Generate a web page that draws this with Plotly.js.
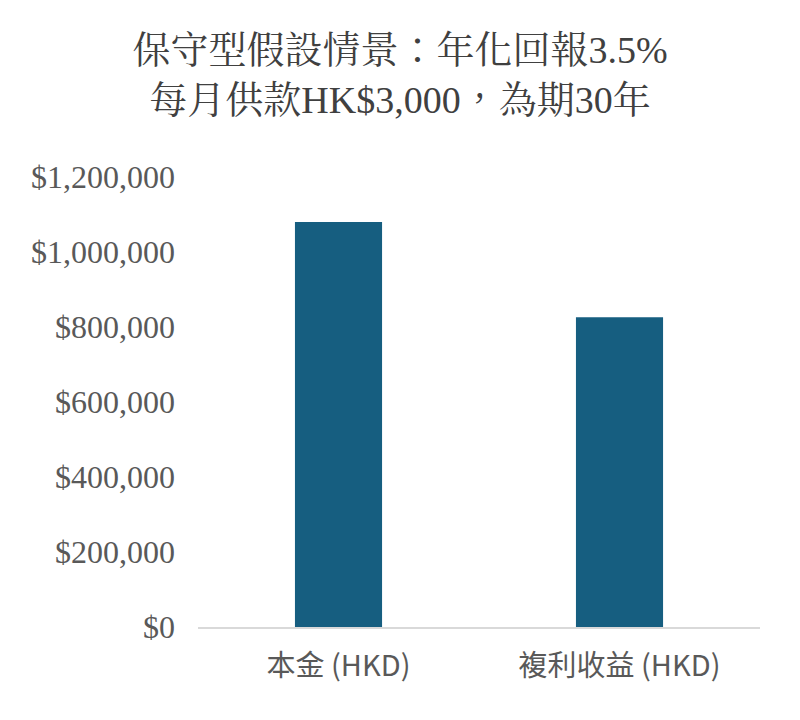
<!DOCTYPE html>
<html><head><meta charset="utf-8">
<script src="https://cdn.plot.ly/plotly-3.0.1.min.js"></script>
<style>body{margin:0;background:#fff}#c{width:800px;height:720px}</style>
</head><body><div id="c"></div>
<script>
const categories = ["本金 (HKD)", "複利收益 (HKD)"];
const values = [1080000, 826000];
const tickVals = [0, 200000, 400000, 600000, 800000, 1000000, 1200000];
const tickText = ["$0", "$200,000", "$400,000", "$600,000", "$800,000", "$1,000,000", "$1,200,000"];

Plotly.newPlot("c", [{
  type: "bar", x: categories, y: values, width: 0.31,
  marker: {color: "#165E80"}, hoverinfo: "none"
}], {
  width: 800, height: 720,
  margin: {l: 198, r: 40, t: 177, b: 93},
  paper_bgcolor: "#fff", plot_bgcolor: "#fff",
  title: {
    text: "保守型假設情景：年化回報3.5%<br>每月供款HK$3,000，為期30年",
    x: 0.5, xanchor: "center", y: 0.912, yanchor: "top",
    font: {family: "Liberation Serif, Noto Serif CJK TC, Noto Sans CJK TC", size: 38, color: "#404040"}
  },
  xaxis: {
    showgrid: false, showline: true, linecolor: "#d9d9d9", linewidth: 2,
    ticks: "", tickfont: {family: "Noto Sans CJK TC, Noto Sans", size: 29, color: "#595959"},
    ticklabelstandoff: 12
  },
  yaxis: {
    range: [0, 1200000], tickvals: tickVals, ticktext: tickText,
    showgrid: false, zeroline: false, showline: false, ticks: "",
    tickfont: {family: "Liberation Serif", size: 32, color: "#595959"},
    ticklabelstandoff: 22
  },
  showlegend: false
}, {staticPlot: true});
</script></body></html>
